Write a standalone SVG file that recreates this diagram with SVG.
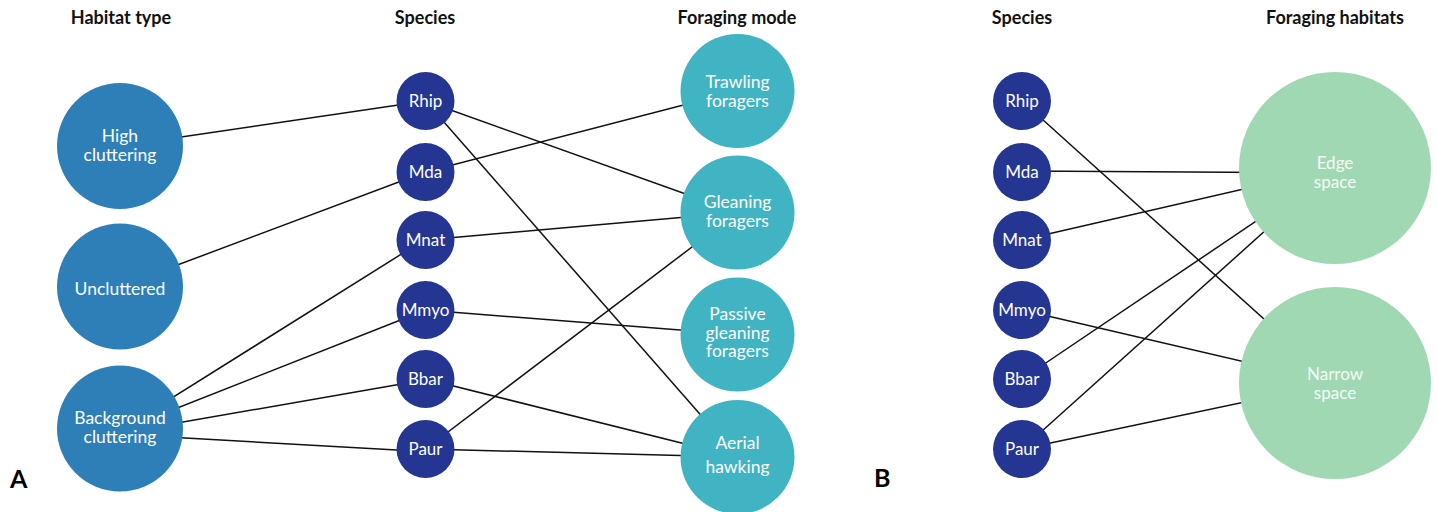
<svg xmlns="http://www.w3.org/2000/svg" width="1437" height="512" viewBox="0 0 1437 512">
<style>
.hdr{font-family:Lato,"Open Sans","Liberation Sans",sans-serif;font-weight:bold;font-size:18px;fill:#111;text-anchor:middle}
.pl{font-family:Lato,"Open Sans","Liberation Sans",sans-serif;font-weight:bold;font-size:25px;fill:#000}
.lbl{font-family:Lato,"Open Sans","Liberation Sans",sans-serif;font-size:17.5px;fill:#fff;text-anchor:middle}
.sp{font-family:Lato,"Open Sans","Liberation Sans",sans-serif;font-size:17px;fill:#fff;text-anchor:middle}
.gl{font-family:Lato,"Open Sans","Liberation Sans",sans-serif;font-size:17px;fill:#f4fbf6;text-anchor:middle}
.hab{fill:#2e7eb8}
.spc{fill:#253592}
.fm{fill:#41b4c4}
.fh{fill:#a1d8b4}
.edges line{stroke:#111;stroke-width:1.5}
</style>
<rect width="1437" height="512" fill="#fff"/>
<text class="hdr" x="121" y="24">Habitat type</text>
<text class="hdr" x="425" y="24">Species</text>
<text class="hdr" x="737" y="24">Foraging mode</text>
<text class="hdr" x="1022" y="24">Species</text>
<text class="hdr" x="1335" y="24">Foraging habitats</text>
<text class="pl" x="10" y="488">A</text>
<text class="pl" x="874" y="487">B</text>
<g class="edges" id="connectors">
<line x1="120" y1="146" x2="425.5" y2="101"/>
<line x1="120" y1="286.5" x2="425.5" y2="172"/>
<line x1="150" y1="411.7" x2="410" y2="248.7"/>
<line x1="150" y1="418.8" x2="410" y2="316.3"/>
<line x1="150" y1="427.7" x2="410" y2="382.6"/>
<line x1="150" y1="436.1" x2="410" y2="450.8"/>
<line x1="425.5" y1="101" x2="737.5" y2="212.5"/>
<line x1="425.5" y1="101" x2="737.5" y2="457"/>
<line x1="425.5" y1="172" x2="737.5" y2="91"/>
<line x1="425.5" y1="240" x2="737.5" y2="212.5"/>
<line x1="425.5" y1="310" x2="737.5" y2="334.5"/>
<line x1="425.5" y1="379" x2="737.5" y2="457"/>
<line x1="425.5" y1="449" x2="737.5" y2="212.5"/>
<line x1="425.5" y1="449" x2="737.5" y2="457"/>
<line x1="1022" y1="101" x2="1335" y2="383"/>
<line x1="1022" y1="171" x2="1335" y2="173"/>
<line x1="1022" y1="240" x2="1335" y2="168"/>
<line x1="1022" y1="310" x2="1335" y2="383"/>
<line x1="1022" y1="379" x2="1335" y2="168"/>
<line x1="1022" y1="449" x2="1335" y2="168"/>
<line x1="1022" y1="449" x2="1335" y2="383"/>
</g>
<g id="high-cluttering"><circle class="hab" cx="120" cy="146" r="63"/><text class="lbl" x="120" y="141.5">High</text><text class="lbl" x="120" y="160.5">cluttering</text></g>
<g id="uncluttered"><circle class="hab" cx="120" cy="286.5" r="63"/><text class="lbl" x="120" y="294.5">Uncluttered</text></g>
<g id="background-cluttering"><circle class="hab" cx="120" cy="428.5" r="63"/><text class="lbl" x="120" y="424">Background</text><text class="lbl" x="120" y="442.5">cluttering</text></g>
<g id="a-rhip"><circle class="spc" cx="425.5" cy="101" r="29"/><text class="sp" x="425.5" y="107">Rhip</text></g>
<g id="a-mda"><circle class="spc" cx="425.5" cy="172" r="29"/><text class="sp" x="425.5" y="178">Mda</text></g>
<g id="a-mnat"><circle class="spc" cx="425.5" cy="240" r="29"/><text class="sp" x="425.5" y="246">Mnat</text></g>
<g id="a-mmyo"><circle class="spc" cx="425.5" cy="310" r="29"/><text class="sp" x="425.5" y="316">Mmyo</text></g>
<g id="a-bbar"><circle class="spc" cx="425.5" cy="379" r="29"/><text class="sp" x="425.5" y="385">Bbar</text></g>
<g id="a-paur"><circle class="spc" cx="425.5" cy="449" r="29"/><text class="sp" x="425.5" y="455">Paur</text></g>
<g id="trawling"><circle class="fm" cx="737.5" cy="91" r="57"/><text class="lbl" x="737.5" y="87.5">Trawling</text><text class="lbl" x="737.5" y="106.5">foragers</text></g>
<g id="gleaning"><circle class="fm" cx="737.5" cy="212.5" r="57"/><text class="lbl" x="737.5" y="208">Gleaning</text><text class="lbl" x="737.5" y="227">foragers</text></g>
<g id="passive-gleaning"><circle class="fm" cx="737.5" cy="334.5" r="57"/><text class="lbl" x="737.5" y="320">Passive</text><text class="lbl" x="737.5" y="338.5">gleaning</text><text class="lbl" x="737.5" y="357">foragers</text></g>
<g id="aerial-hawking"><circle class="fm" cx="737.5" cy="457" r="57"/><text class="lbl" x="737.5" y="449.3">Aerial</text><text class="lbl" x="737.5" y="472.5">hawking</text></g>
<g id="b-rhip"><circle class="spc" cx="1022" cy="101" r="29"/><text class="sp" x="1022" y="107">Rhip</text></g>
<g id="b-mda"><circle class="spc" cx="1022" cy="172" r="29"/><text class="sp" x="1022" y="178">Mda</text></g>
<g id="b-mnat"><circle class="spc" cx="1022" cy="240" r="29"/><text class="sp" x="1022" y="246">Mnat</text></g>
<g id="b-mmyo"><circle class="spc" cx="1022" cy="310" r="29"/><text class="sp" x="1022" y="316">Mmyo</text></g>
<g id="b-bbar"><circle class="spc" cx="1022" cy="379" r="29"/><text class="sp" x="1022" y="385">Bbar</text></g>
<g id="b-paur"><circle class="spc" cx="1022" cy="449" r="29"/><text class="sp" x="1022" y="455">Paur</text></g>
<g id="edge-space"><circle class="fh" cx="1335" cy="168" r="96"/><text class="gl" x="1335" y="168.5">Edge</text><text class="gl" x="1335" y="188">space</text></g>
<g id="narrow-space"><circle class="fh" cx="1335" cy="383" r="96"/><text class="gl" x="1335" y="379.5">Narrow</text><text class="gl" x="1335" y="398.5">space</text></g>
</svg>
